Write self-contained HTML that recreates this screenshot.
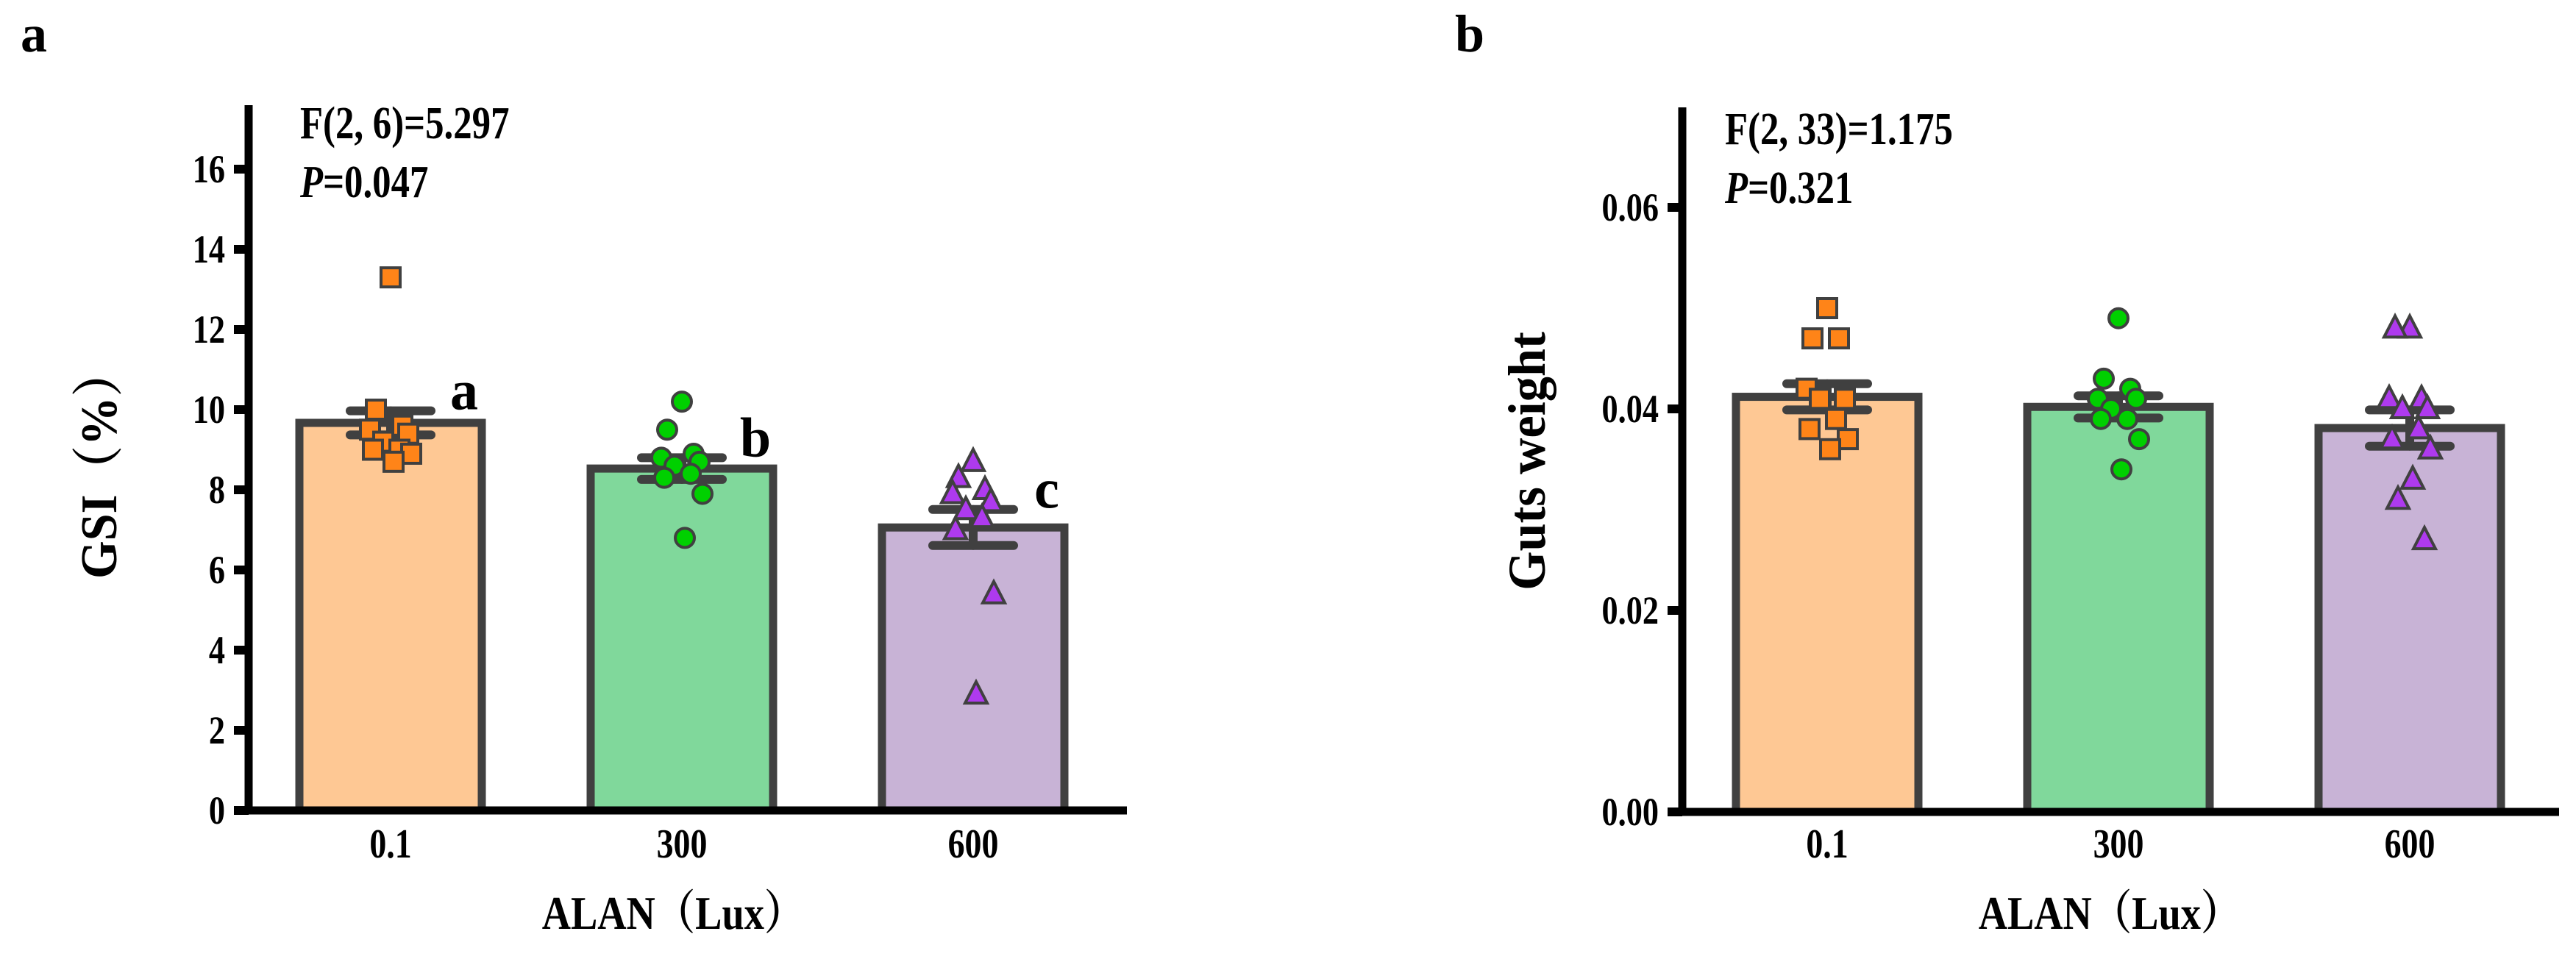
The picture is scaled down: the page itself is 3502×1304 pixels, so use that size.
<!DOCTYPE html>
<html><head><meta charset="utf-8"><style>
html,body{margin:0;padding:0;background:#fff;width:3502px;height:1304px;overflow:hidden}
svg text{font-family:"Liberation Serif","Noto Serif CJK SC",serif;font-weight:bold;fill:#000}
</style></head><body>
<svg id="chart" width="3502" height="1304" viewBox="0 0 3502 1304" xmlns="http://www.w3.org/2000/svg"></svg>
<script>
const categories = ["0.1","300","600"];
const gsiMeans = [9.67, 8.53, 7.06];
const gsiSem = [0.30, 0.27, 0.45];
const gsiPts0 = [13.3,10.0,9.6,9.5,9.4,9.2,9.0,9.0,8.9,8.7];
const gsiPts1 = [10.2,9.5,8.9,8.8,8.7,8.6,8.4,8.3,7.9,6.8];
const gsiPts2 = [8.7,8.3,8.0,7.9,7.7,7.5,7.3,7.0,5.4,2.9];
const gsiTicks = [0,2,4,6,8,10,12,14,16];
const gsiLetters = ["a","b","c"];
const gutMeans = [0.0412, 0.0402, 0.0381];
const gutSem = [0.0013, 0.0011, 0.0018];
const gutPts0 = [0.050,0.047,0.047,0.042,0.041,0.041,0.039,0.038,0.037,0.036];
const gutPts1 = [0.049,0.043,0.042,0.041,0.041,0.040,0.039,0.039,0.037,0.034];
const gutPts2 = [0.048,0.048,0.041,0.041,0.040,0.040,0.038,0.037,0.036,0.033,0.031,0.027];
const gutTicks = [0,0.02,0.04,0.06];
const gutTickLabels = ["0.00","0.02","0.04","0.06"];

const NS="http://www.w3.org/2000/svg";
const svg=document.getElementById('chart');
function mk(tag,attrs,parent){const e=document.createElementNS(NS,tag);for(const k in attrs)e.setAttribute(k,attrs[k]);(parent||svg).appendChild(e);return e;}
function txt(str,x,y,size,anchor,parent,sx){const t=mk('text',{'font-size':size,'text-anchor':anchor||'start',transform:`translate(${x},${y}) scale(${sx||0.82},1)`},parent);t.textContent=str;return t;}
const fills=["#FEC894","#80D89B","#C8B3D6"];
const mfill=["#FF8418","#00D000","#AE3AEE"];
const jit=[0,-20,16,-28,24,-10,12,-24,28,4,-16,20];

function panel(o){
  const g=mk('g',{});
  
  
  const y=v=>o.zero-(v/o.max)*(o.zero-o.top0);
  const xc=i=>o.x0+i*o.step;
  o.means.forEach((m,i)=>{
    const r=mk('rect',{x:xc(i)-124,y:y(m),width:248,height:o.zero-y(m),fill:fills[i],stroke:'#404040','stroke-width':11},g);
    
    
  });
  o.means.forEach((m,i)=>{
    const e=mk('g',{stroke:'#404040','stroke-width':12,'stroke-linecap':'round'},g);
    
    
    mk('line',{x1:xc(i),x2:xc(i),y1:y(m+o.sem[i]),y2:y(m-o.sem[i])},e);
    mk('line',{x1:xc(i)-55,x2:xc(i)+55,y1:y(m+o.sem[i]),y2:y(m+o.sem[i])},e);
    mk('line',{x1:xc(i)-55,x2:xc(i)+55,y1:y(m-o.sem[i]),y2:y(m-o.sem[i])},e);
  });
  o.pts.forEach((arr,i)=>{
    arr.forEach((v,j)=>{
      const px=xc(i)+jit[j%jit.length], py=y(v);
      let p;
      if(i===0) p=mk('rect',{x:px-13,y:py-13,width:26,height:26,fill:mfill[0],stroke:'#404040','stroke-width':4},g);
      else if(i===1) p=mk('circle',{cx:px,cy:py,r:13,fill:mfill[1],stroke:'#404040','stroke-width':4},g);
      else p=mk('polygon',{points:`${px},${py-17} ${px-15},${py+12} ${px+15},${py+12}`,fill:mfill[2],stroke:'#404040','stroke-width':4},g);
      
      
    });
  });
  const ya=mk('line',{x1:o.ax,x2:o.ax,y1:o.top,y2:o.zero+5,stroke:'#000','stroke-width':11},g);
  
  const xa=mk('line',{x1:o.ax-18,x2:o.xend,y1:o.zero,y2:o.zero,stroke:'#000','stroke-width':11},g);
  
  o.ticks.forEach((t,k)=>{
    mk('line',{x1:o.ax-20,x2:o.ax,y1:y(t),y2:y(t),stroke:'#000','stroke-width':12},g);
    const l=txt(o.tickLabels[k],o.ax-32,y(t)+18,54,'end',g);
    
  });
  categories.forEach((c,i)=>{
    const l=txt(c,xc(i),1166,56,'middle',g);
    
  });
  const xt=txt('ALAN（Lux）',xc(1)-12,1263,64,'middle',g,0.85);
  
  const yt=mk('text',{'font-size':o.ysize,'text-anchor':'middle',transform:`translate(${o.ylx},${o.yly}) rotate(-90) scale(0.95,1)`},g);
  yt.textContent=o.ylabel;
  
  const f=txt(o.ftext,o.sx,o.fy,62,'start',g);
  
  const p=mk('text',{'font-size':62,transform:`translate(${o.sx},${o.fy+80}) scale(0.82,1)`},g);
  p.innerHTML='<tspan font-style="italic">P</tspan>='+o.ptext;
  
  const pl=txt(o.label,o.lx,70,72,'start',g,1);
  
  return {g,y,xc};
}

const A=panel({name:'panel-a-gsi',x0:531,step:396,ax:338,top:143,zero:1102,top0:1102-16*54.5,max:16,
  means:gsiMeans,sem:gsiSem,pts:[gsiPts0,gsiPts1,gsiPts2],ticks:gsiTicks,tickLabels:gsiTicks.map(String),
  xend:1532,ylabel:'GSI（%）',ysize:70,ylx:158,yly:630,ftext:'F(2, 6)=5.297',ptext:'0.047',sx:408,fy:188,label:'a',lx:28});
gsiLetters.forEach((s,i)=>{
  const t=txt(s,A.xc(i)+100,A.y(gsiMeans[i]+gsiSem[i])-2,76,'middle',A.g,1);
  
  
});
panel({name:'panel-b-guts',x0:2484,step:396,ax:2287,top:146,zero:1104,top0:1104-3*274,max:0.06,
  means:gutMeans,sem:gutSem,pts:[gutPts0,gutPts1,gutPts2],ticks:gutTicks,tickLabels:gutTickLabels,
  xend:3479,ylabel:'Guts weight',ysize:72,ylx:2100,yly:627,ftext:'F(2, 33)=1.175',ptext:'0.321',sx:2345,fy:196,label:'b',lx:1978});
</script>
</body></html>
